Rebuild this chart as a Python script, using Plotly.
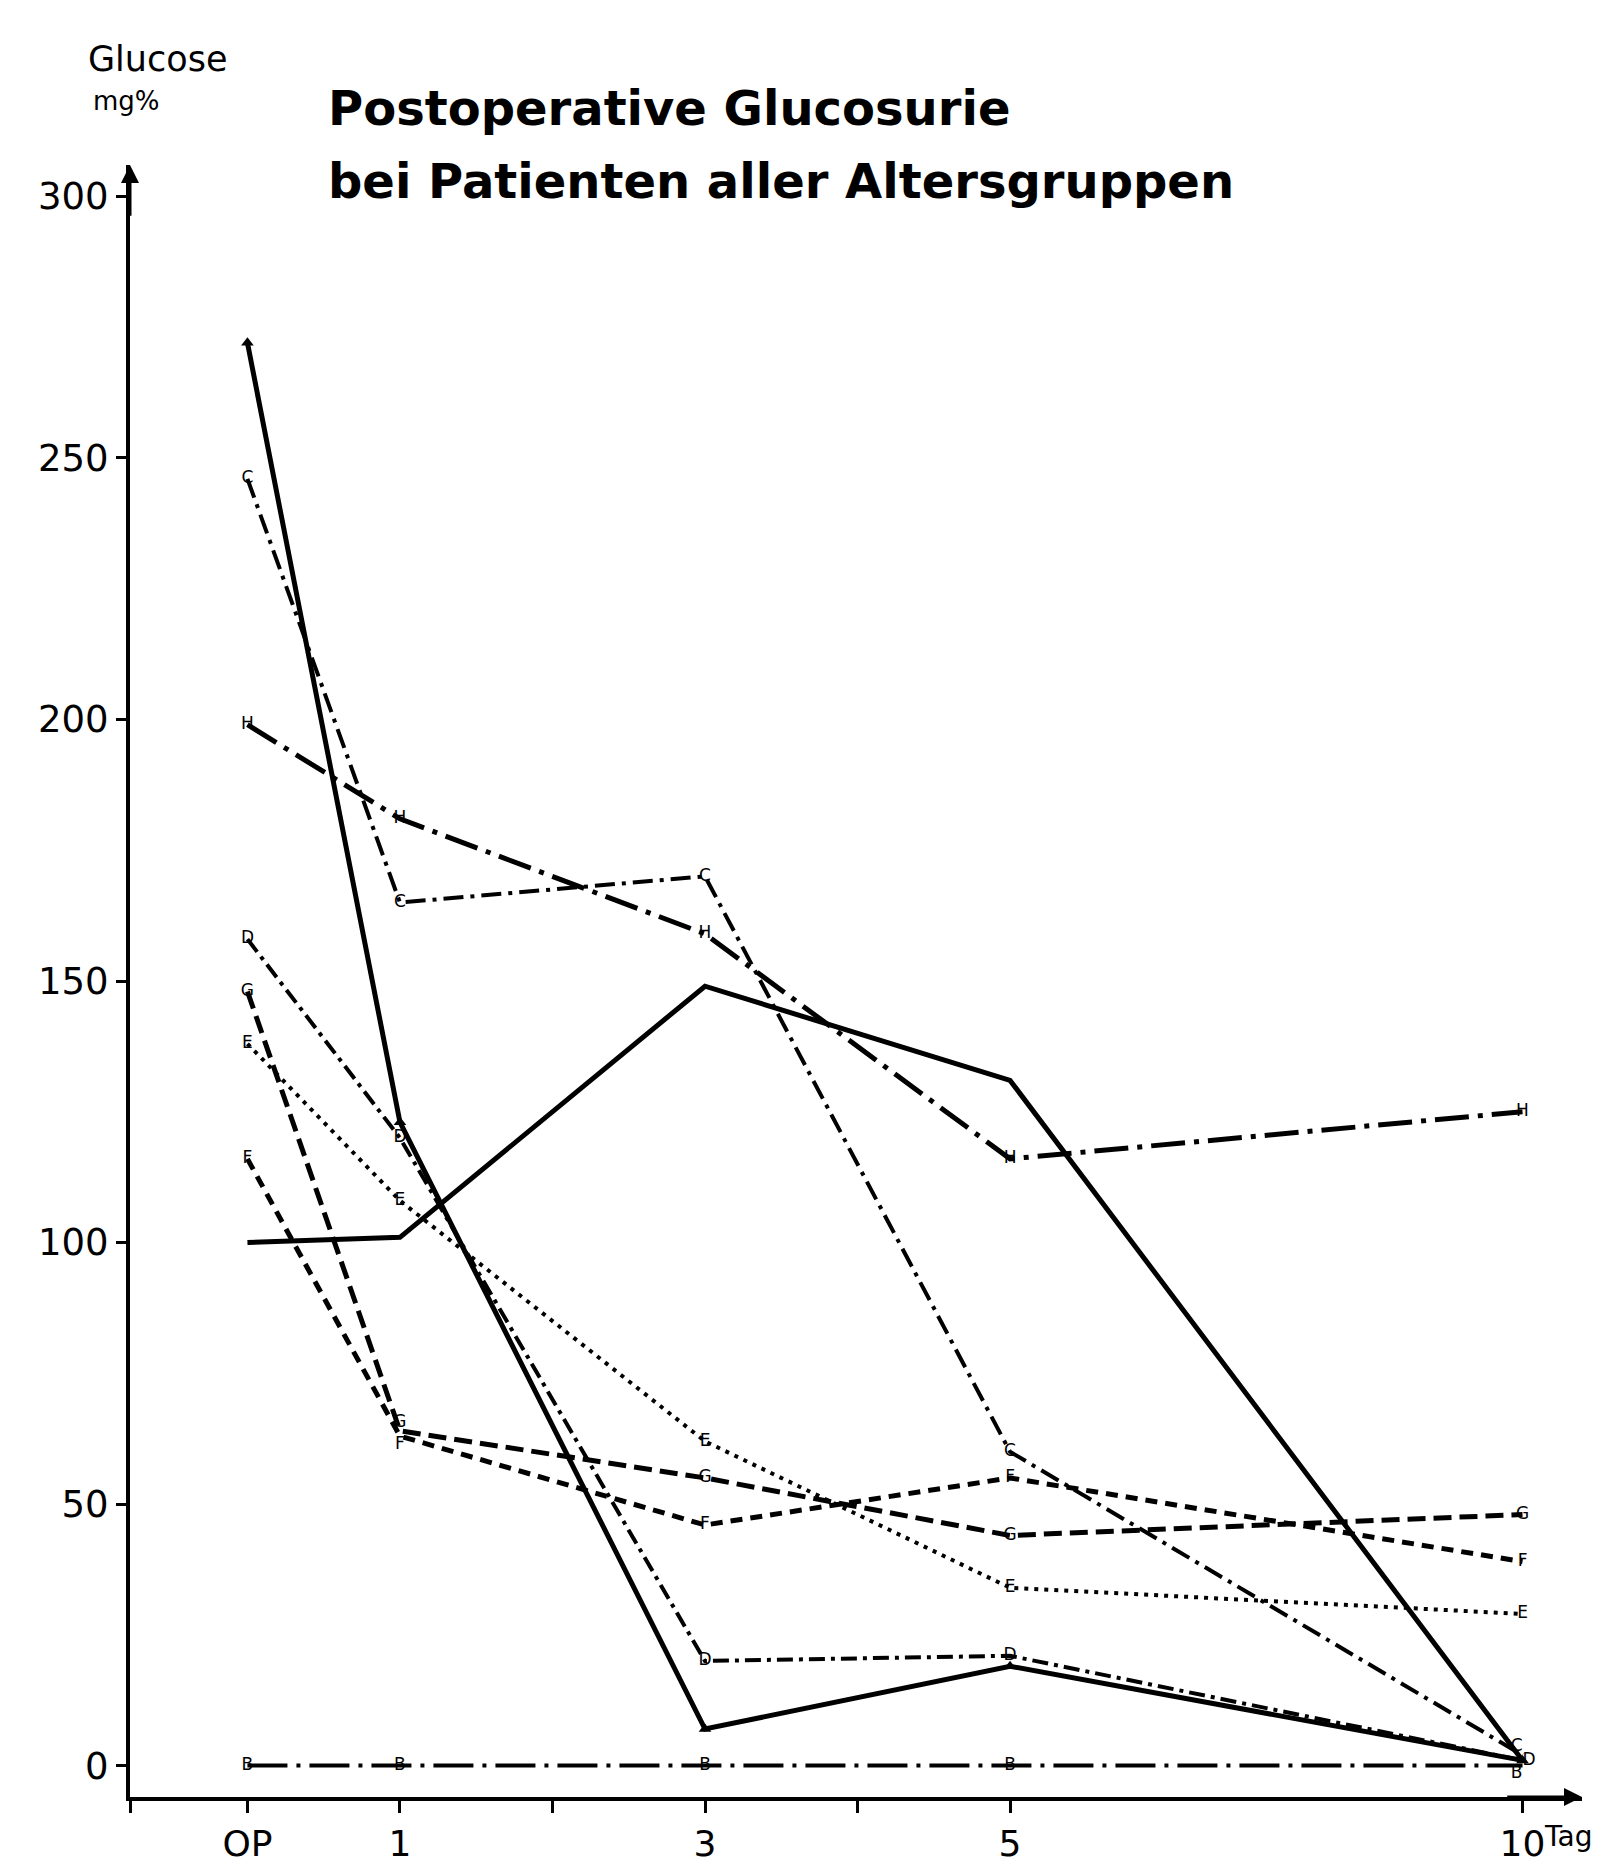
import plotly.graph_objects as go

# ---- data ----
days = ["OP", "1", "3", "5", "10"]
# position of each day category on the (compressed) time axis
day_axis_pos = [0, 1, 3, 5, 8.36]

series_A = [272, 123, 7, 19, 1]      # solid, triangle markers
series_C = [246, 165, 170, 60, 2]    # dash-dot
series_H = [199, 181, 159, 116, 125] # long dash-dot
series_S = [100, 101, 149, 131, 1]   # solid
series_D = [158, 120, 20, 21, 1]     # dash-dot
series_E = [138, 108, 62, 34, 29]    # dotted
series_G = [148, 64, 55, 44, 48]     # dashed
series_F = [116, 63, 46, 55, 39]     # dashed
series_B = [0, 0, 0, 0, 0]           # zero line

y_ticks = [0, 50, 100, 150, 200, 250, 300]
x_tick_vals = [-0.77, 0, 1, 2, 3, 4, 5, 8.36]
x_tick_text = ["", "OP", "1", "", "3", "", "5", "10"]

title_lines = ["Postoperative Glucosurie", "bei Patienten aller Altersgruppen"]
y_title = ["Glucose", "mg%"]

# ---- figure ----
FONT = "DejaVu Sans"
fig = go.Figure()

mc = "middle center"
styles = [
    (series_A, "A", "solid", 5, None),
    (series_C, "C", "20px,7px,4px,7px", 4, [mc, mc, mc, mc, "top left"]),
    (series_H, "H", "34px,9px,5px,9px", 5, [mc] * 5),
    (series_S, "", "solid", 5, None),
    (series_D, "D", "16px,6px,4px,6px", 4, [mc, mc, mc, mc, "middle right"]),
    (series_E, "E", "4px,6px", 4, [mc] * 5),
    (series_G, "G", "18px,8px", 5, [mc, "top center", mc, mc, mc]),
    (series_F, "F", "12px,8px", 5, [mc, "bottom center", mc, mc, mc]),
    (series_B, "B", "40px,9px,4px,9px", 4, [mc, mc, mc, mc, "bottom left"]),
]

for vals, letter, dash, w, tpos in styles:
    fig.add_trace(go.Scatter(
        x=day_axis_pos, y=vals, mode="lines",
        line=dict(color="black", width=w, dash=dash),
        showlegend=False, hoverinfo="skip",
    ))
    if letter == "A":
        fig.add_trace(go.Scatter(
            x=day_axis_pos, y=vals, mode="markers",
            marker=dict(symbol="triangle-up", size=11, color="black"),
            showlegend=False, hoverinfo="skip",
        ))
    elif letter:
        fig.add_trace(go.Scatter(
            x=day_axis_pos, y=vals, mode="text",
            text=[letter] * len(vals), textposition=tpos,
            textfont=dict(family=FONT, size=17, color="black"),
            showlegend=False, hoverinfo="skip",
        ))

X0, X1 = -0.77, 8.75
Y0, Y1 = -6.0, 306.0

fig.update_xaxes(
    range=[X0, X1], tickvals=x_tick_vals, ticktext=x_tick_text,
    showline=True, linecolor="black", linewidth=4,
    ticks="outside", ticklen=12, tickwidth=3, tickcolor="black",
    showgrid=False, zeroline=False,
    tickfont=dict(family=FONT, size=36, color="black"),
)
fig.update_yaxes(
    range=[Y0, Y1], tickvals=y_ticks,
    showline=True, linecolor="black", linewidth=4,
    ticks="outside", ticklen=10, tickwidth=3, tickcolor="black",
    showgrid=False, zeroline=False,
    tickfont=dict(family=FONT, size=37, color="black"),
)

W = 1452.0
H = 1641.0
def px(p):
    return (p - 126) / W
def py(p):
    return (1798 - p) / H

ann = []
# axis arrows
ann.append(dict(x=X1, y=Y0, ax=X1 - 0.5, ay=Y0, xref="x", yref="y", axref="x", ayref="y",
                showarrow=True, arrowhead=2, arrowsize=1.2, arrowwidth=3, arrowcolor="black", text=""))
ann.append(dict(x=X0, y=Y1, ax=X0, ay=Y1 - 10, xref="x", yref="y", axref="x", ayref="y",
                showarrow=True, arrowhead=2, arrowsize=1.2, arrowwidth=3, arrowcolor="black", text=""))
# "Tag" after 10
ann.append(dict(x=px(1538), y=py(1838), xref="paper", yref="paper",
                xanchor="left", yanchor="middle", showarrow=False, text="Tag",
                font=dict(family=FONT, size=28, color="black")))
# title
ann.append(dict(x=px(322), y=py(100), xref="paper", yref="paper",
                xanchor="left", yanchor="middle", showarrow=False, text="<b>" + title_lines[0] + "</b>",
                font=dict(family=FONT, size=48, color="black")))
ann.append(dict(x=px(322), y=py(173), xref="paper", yref="paper",
                xanchor="left", yanchor="middle", showarrow=False, text="<b>" + title_lines[1] + "</b>",
                font=dict(family=FONT, size=48, color="black")))
# y title
ann.append(dict(x=px(82), y=py(50), xref="paper", yref="paper",
                xanchor="left", yanchor="middle", showarrow=False, text=y_title[0],
                font=dict(family=FONT, size=35, color="black")))
ann.append(dict(x=px(87), y=py(93), xref="paper", yref="paper",
                xanchor="left", yanchor="middle", showarrow=False, text=y_title[1],
                font=dict(family=FONT, size=26, color="black")))

fig.update_layout(
    width=1622, height=1868,
    margin=dict(l=122, r=48, t=157, b=70),
    paper_bgcolor="white", plot_bgcolor="white",
    annotations=ann,
)

fig.write_html("out.html")
